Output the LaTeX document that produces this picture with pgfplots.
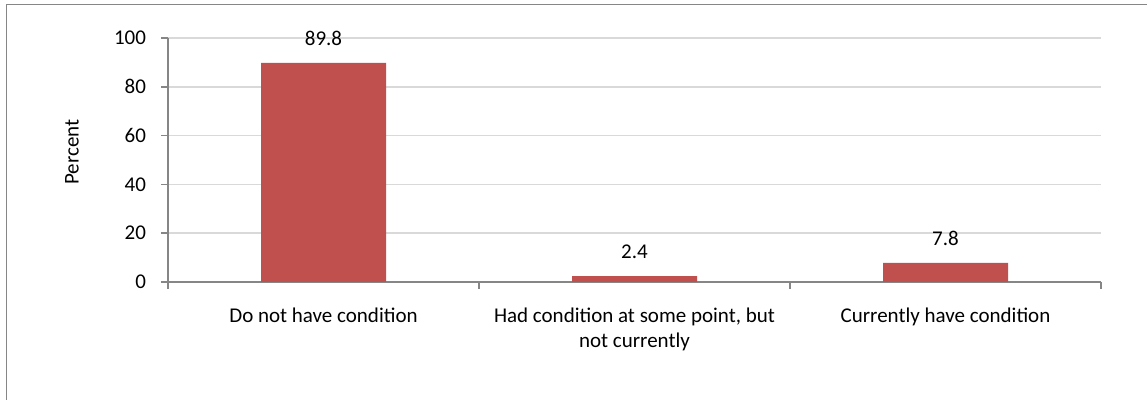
\documentclass[border=0pt]{standalone}
\usepackage{pgfplots}
\pgfplotsset{compat=1.18}
\usepackage{fontspec}
\setmainfont{Carlito}
\definecolor{barred}{HTML}{C0504D}
\definecolor{axgray}{HTML}{868686}
\definecolor{gridgray}{HTML}{D9D9D9}
\newcommand{\chfont}{\fontsize{10.5pt}{12.5pt}\selectfont}
\begin{document}
\begin{tikzpicture}
\useasboundingbox (0,0) rectangle (573.5pt,200pt);
\begin{scope}
\clip (0,0) rectangle (573.5pt,200pt);
\draw[axgray, line width=0.8pt] (3.3pt,-10pt) rectangle (590pt,197.8pt);
\end{scope}
\begin{axis}[
  at={(84pt,59pt)}, anchor=south west,
  scale only axis, width=466.5pt, height=122pt,
  xmin=0, xmax=3, ymin=0, ymax=100,
  axis x line*=bottom, axis y line*=left,
  axis line style={draw=axgray, line width=0.8pt, -},
  ytick={0,20,40,60,80,100},
  ymajorgrids, grid style={gridgray, line width=0.8pt},
  xtick={0.5,1.5,2.5},
  xticklabels={Do not have condition, {Had condition at some point, but\\not currently}, Currently have condition},
  tick label style={font=\chfont, text=black},
  xticklabel style={align=center, yshift=-6pt},
  minor xtick={0,1,2,3},
  tick align=outside,
  major x tick style={draw=none},
  minor x tick style={draw=axgray, line width=0.8pt},
  major y tick style={draw=axgray, line width=0.8pt},
  major tick length=3.5pt, minor tick length=3.5pt,
  yticklabel style={xshift=-4pt},
  /pgf/number format/assume math mode=true,
  ylabel={Percent},
  ylabel style={font=\chfont, at={(axis description cs:-0.103,0.533)}, anchor=center},
  ybar, bar width=62.5pt,
  nodes near coords,
  nodes near coords style={font=\chfont, anchor=south, inner sep=0pt, yshift=8.5pt, text=black, /pgf/number format/fixed, /pgf/number format/precision=1, /pgf/number format/fixed zerofill},
]
\addplot[fill=barred, draw=none] coordinates {(0.5,89.8) (1.5,2.4) (2.5,7.8)};
\end{axis}
\end{tikzpicture}
\end{document}
